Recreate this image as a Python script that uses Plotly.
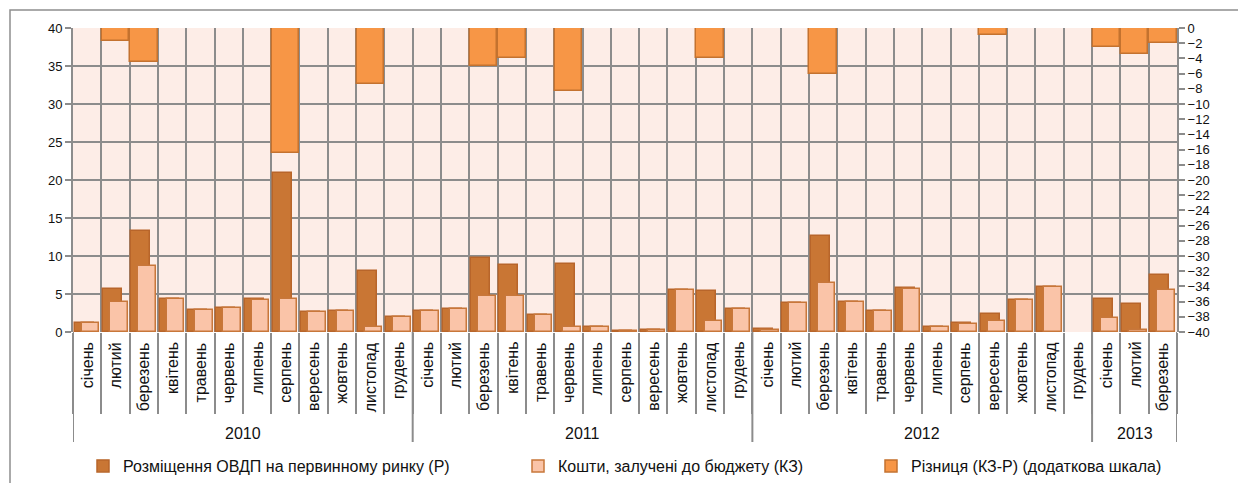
import plotly.graph_objects as go

# Місяці та роки для осі X
months = ['січень', 'лютий', 'березень', 'квітень', 'травень', 'червень',
          'липень', 'серпень', 'вересень', 'жовтень', 'листопад', 'грудень']
years = ['2010', '2011', '2012', '2013']
months_per_year = [12, 12, 12, 3]

# Розміщення ОВДП на первинному ринку (Р), млрд грн; None - розміщень не було
placement = [1.2, 5.7, 13.3, 4.4, 2.85, 3.15, 4.3, 20.9, 2.6, 2.7, 8.0, 2.0,
             2.8, 3.0, 9.7, 8.8, 2.2, 9.0, 0.6, 0.13, 0.2, 5.5, 5.4, 3.05,
             0.35, 3.8, 12.6, 3.9, 2.8, 5.75, 0.6, 1.15, 2.35, 4.2, 5.9, None,
             4.4, 3.65, 7.5]

# Кошти, залучені до бюджету (КЗ)
budget = [1.2, 3.9, 8.7, 4.4, 2.85, 3.15, 4.25, 4.4, 2.6, 2.7, 0.6, 2.0,
          2.8, 3.0, 4.7, 4.8, 2.2, 0.6, 0.6, 0.1, 0.2, 5.5, 1.4, 3.0,
          0.3, 3.8, 6.5, 3.9, 2.8, 5.7, 0.6, 1.1, 1.4, 4.2, 5.9, None,
          1.9, 0.2, 5.5]

# Різниця (КЗ-Р), додаткова шкала; None - різниці немає
difference = [None, -1.75, -4.5, None, None, None, None, -16.45, None, None, -7.4, None,
              None, None, -5.0, -3.95, None, -8.3, None, None, None, None, -3.95, None,
              None, None, -6.0, None, None, None, None, None, -0.95, None, None, None,
              -2.5, -3.45, -1.95]

month_labels = []
for n in months_per_year:
    month_labels += months[:n]
xs = list(range(len(month_labels)))

GRID = '#8c8c8c'
TXT = '#111111'
FONT = 'Liberation Sans, Arial, sans-serif'

fig = go.Figure()

fig.add_trace(go.Bar(
    x=xs, y=placement, name='Розміщення ОВДП на первинному ринку (Р)',
    offset=-0.44, width=0.67,
    marker=dict(color='#c97634', line=dict(color='#b8652a', width=1.5)),
    legend='legend'))

fig.add_trace(go.Bar(
    x=xs, y=budget, name='Кошти, залучені до бюджету (КЗ)',
    offset=-0.19, width=0.62,
    marker=dict(color='#fac4a8', line=dict(color='#c8773a', width=1.5)),
    legend='legend2'))

fig.add_trace(go.Bar(
    x=xs, y=difference, name='Різниця (КЗ-Р) (додаткова шкала)',
    offset=-0.485, width=0.97, yaxis='y2',
    marker=dict(color='#f79646', line=dict(color='#c4722f', width=1.5)),
    legend='legend3'))

L, R, T, B = 73, 61, 28, 151
W, H = 1238, 483
pw, ph = W - L - R, H - T - B


def px_y(p):
    # пікселі від верху сторінки -> частка області побудови
    return (H - B - p) / ph


def px_x(p):
    return (p - L) / pw


annotations = []
for i, m in enumerate(month_labels):
    annotations.append(dict(
        x=i, y=px_y(340), xref='x', yref='paper', text=m, textangle=-90,
        xanchor='center', yanchor='top', showarrow=False,
        font=dict(family=FONT, size=16, color=TXT)))

shapes = []
start = 0
bounds = [-0.5]
for yr, n in zip(years, months_per_year):
    annotations.append(dict(
        x=start + (n - 1) / 2, y=px_y(433), xref='x', yref='paper', text=yr,
        xanchor='center', yanchor='middle', showarrow=False,
        font=dict(family=FONT, size=16, color=TXT)))
    start += n
    bounds.append(start - 0.5)

for b in bounds:
    shapes.append(dict(type='line', xref='x', yref='paper', x0=b, x1=b,
                       y0=0, y1=px_y(442), line=dict(color=GRID, width=2)))

# рамка навколо діаграми
shapes.append(dict(type='rect', xref='paper', yref='paper',
                   x0=px_x(10), x1=px_x(1300), y0=px_y(10), y1=px_y(560),
                   line=dict(color='#8f8f8f', width=1.5), layer='below'))

legend_common = dict(orientation='h', yanchor='middle', y=px_y(466),
                     xanchor='left', bgcolor='rgba(0,0,0,0)',
                     font=dict(family=FONT, size=16, color=TXT))

fig.update_layout(
    width=W, height=H,
    margin=dict(l=L, r=R, t=T, b=B, autoexpand=False),
    paper_bgcolor='white', plot_bgcolor='#fdede7',
    barmode='overlay', bargap=0,
    font=dict(family=FONT, size=13, color=TXT),
    showlegend=True,
    legend=dict(x=px_x(83), **legend_common),
    legend2=dict(x=px_x(518), **legend_common),
    legend3=dict(x=px_x(871), **legend_common),
    xaxis=dict(range=[-0.5, len(xs) - 0.5], tickmode='linear', tick0=-0.5, dtick=1,
               showticklabels=False, showgrid=True, gridcolor=GRID, gridwidth=2,
               ticks='outside', ticklen=81, tickcolor=GRID, tickwidth=2,
               showline=False, zeroline=False, fixedrange=True),
    yaxis=dict(range=[0, 40], dtick=5, showgrid=True, gridcolor=GRID, gridwidth=2,
               ticks='outside', ticklen=6, tickcolor=GRID, tickwidth=1.5,
               showline=True, linecolor=GRID, linewidth=2, zeroline=False,
               tickfont=dict(family=FONT, size=13, color=TXT)),
    yaxis2=dict(range=[-40, 0], dtick=2, overlaying='y', side='right',
                showgrid=False, zeroline=False,
                ticks='outside', ticklen=6, tickcolor=GRID, tickwidth=1.5,
                showline=True, linecolor=GRID, linewidth=2,
                tickfont=dict(family=FONT, size=13, color=TXT)),
    annotations=annotations, shapes=shapes,
)

fig.write_html('out.html')
